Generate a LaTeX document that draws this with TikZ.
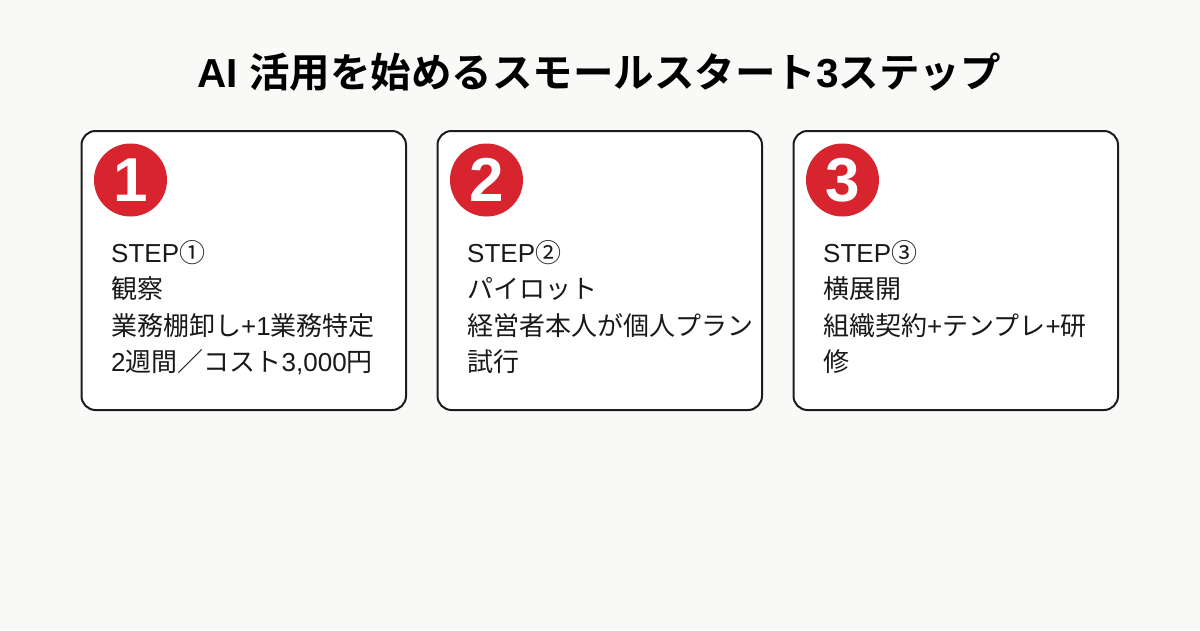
\documentclass[tikz,border=0pt]{standalone}
\usepackage{fontspec}
\setmainfont{Noto Sans CJK JP}
\newfontfamily\jpbold{Noto Sans CJK JP Bold}
\newfontfamily\lat{Liberation Sans}
\newfontfamily\latb{Liberation Sans Bold}
\definecolor{bgc}{HTML}{F9F9F7}
\definecolor{edgec}{HTML}{1C1C1C}
\definecolor{redc}{HTML}{D7242E}
\newcommand{\latx}[1]{{\lat #1}}
\newcommand{\latbx}[1]{{\latb #1}}
\begin{document}
\begin{tikzpicture}[x=1pt,y=-1pt,
  card/.style={draw=edgec,line width=2pt,fill=white,rounded corners=14pt},
  badge/.style={circle,fill=redc,minimum size=73pt,inner sep=0pt,text=white,font=\latb\fontsize{62}{62}\selectfont},
  line/.style={anchor=base west,inner sep=0pt,text=black!90,font=\fontsize{26}{30}\selectfont},
  titletext/.style={anchor=center,inner sep=0pt,font=\jpbold\fontsize{40.5}{42}\selectfont}]
\fill[bgc] (0,0) rectangle (1200,630);
\useasboundingbox (0,0) rectangle (1200,630);
\node[titletext] (title) at (599,72) {\latbx{AI }活用を始めるスモールスタート\latbx{3}ステップ};
% cards
\draw[card] (81.5,131) rectangle (406,410);
\draw[card] (437.5,131) rectangle (762,410);
\draw[card] (793.5,131) rectangle (1118,410);
% badges
\node[badge] (b1) at (130.5,180) {1};
\node[badge] (b2) at (486.5,180) {2};
\node[badge] (b3) at (842.5,180) {3};
% card 1
\node[line] (s1a) at (111,262) {\latx{STEP}①};
\node[line] (s1b) at (111,298.5) {観察};
\node[line] (s1c) at (111,335) {業務棚卸し\latx{+1}業務特定};
\node[line] (s1d) at (111,371) {\latx{2}週間／コスト\latx{3,000}円};
% card 2
\node[line] (s2a) at (467,262) {\latx{STEP}②};
\node[line] (s2b) at (467,298.5) {パイロット};
\node[line] (s2c) at (467,335) {経営者本人が個人プラン};
\node[line] (s2d) at (467,371) {試行};
% card 3
\node[line] (s3a) at (823,262) {\latx{STEP}③};
\node[line] (s3b) at (823,298.5) {横展開};
\node[line] (s3c) at (823,335) {組織契約\latx{+}テンプレ\latx{+}研};
\node[line] (s3d) at (823,371) {修};
\end{tikzpicture}
\end{document}
